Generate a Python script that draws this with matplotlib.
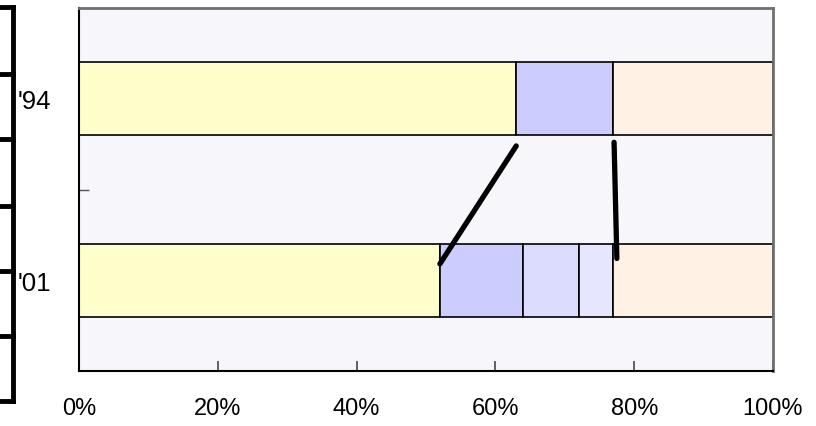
import matplotlib
matplotlib.use("Agg")
import matplotlib.pyplot as plt
from matplotlib.lines import Line2D

# ---- data ----
years = ["'94", "'01"]
seg1 = [63, 52]   # yellow
seg2 = [14, 12]   # blue
seg3 = [0, 8]     # light blue (hatched)
seg4 = [0, 5]     # lighter blue
seg5 = [23, 23]   # peach
xticks = [0, 20, 40, 60, 80, 100]
xticklabels = ["0%", "20%", "40%", "60%", "80%", "100%"]
# connector lines (percent, category position)
conn1_x = [63, 52]
conn1_y = [0.26, 0.91]
conn2_x = [77.1, 77.5]
conn2_y = [0.24, 0.88]

plt.rcParams['font.family'] = ['Liberation Sans', 'DejaVu Sans']

fig = plt.figure(figsize=(8.16, 4.27), dpi=100)
fig.patch.set_facecolor('white')
ax = fig.add_axes([79/816, (427-372)/427, 694/816, 363/427])
ax.set_facecolor('#F6F6FB')

ypos = list(range(len(years)))
colors = ['#FFFFCC', '#CCCCFF', '#DCDCFF', '#E6E6FF', '#FFF1E3']
segs = [seg1, seg2, seg3, seg4, seg5]
left = [0]*len(years)
for s, c in zip(segs, colors):
    ax.barh(ypos, s, left=left, height=0.4, color=c, edgecolor='black', linewidth=1.2, zorder=2)
    left = [l + v for l, v in zip(left, s)]

ax.plot(conn1_x, conn1_y, color='black', linewidth=3.8, solid_capstyle='round', zorder=4)
ax.plot(conn2_x, conn2_y, color='black', linewidth=3.8, solid_capstyle='round', zorder=4)

ax.set_xlim(0, 100)
ax.set_ylim(1.5, -0.5)
ax.set_xticks(xticks)
ax.set_xticklabels(xticklabels, fontsize=17)
ax.set_yticks(ypos)
ax.set_yticklabels(years, fontsize=18.5)
ax.set_yticks([0.5], minor=True)
ax.tick_params(axis='x', direction='in', length=7, width=1.3, color='#555555', pad=19)
ax.tick_params(axis='y', which='major', length=0, pad=20)
ax.tick_params(axis='y', which='minor', direction='in', length=7, width=1, color='#555555')

for side in ['left', 'bottom']:
    ax.spines[side].set_color('black')
    ax.spines[side].set_linewidth(1.5)
for side in ['top', 'right']:
    ax.spines[side].set_color('#707070')
    ax.spines[side].set_linewidth(2)

# left bracket (cropped table border)
lw = 3.5
fig.add_artist(Line2D([12.5/816, 12.5/816], [1-8/427, 1-402/427], transform=fig.transFigure, color='black', linewidth=lw))
for yy in [8, 75, 140, 207, 272, 337, 402]:
    fig.add_artist(Line2D([0, 12.5/816], [1-yy/427, 1-yy/427], transform=fig.transFigure, color='black', linewidth=lw))

fig.savefig('out.png', dpi=100)
